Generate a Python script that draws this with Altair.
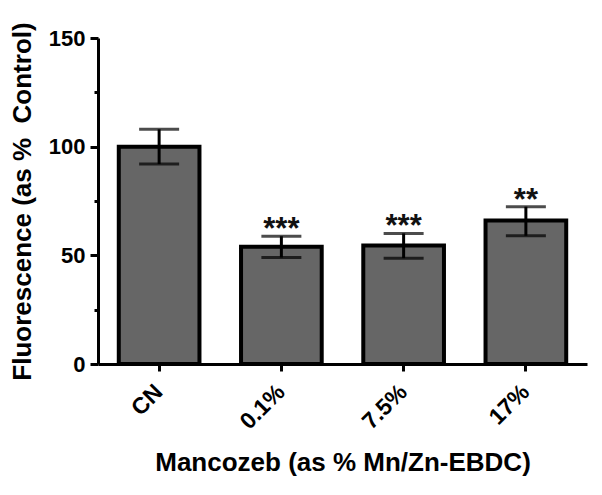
import altair as alt
import pandas as pd

categories = ["CN", "0.1%", "7.5%", "17%"]
means = [100, 54, 54.5, 66]
err_low = [92, 49, 48.7, 59]
err_high = [108, 58.8, 60.1, 72.4]
stars = ["", "***", "***", "**"]

df = pd.DataFrame({
    "cat": categories,
    "mean": means,
    "lo": err_low,
    "hi": err_high,
    "star": stars,
})

FONT = "Liberation Sans"

x = alt.X(
    "cat:N",
    sort=categories,
    scale=alt.Scale(paddingInner=0.34, paddingOuter=0.17),
    axis=alt.Axis(
        title="Mancozeb (as % Mn/Zn-EBDC)",
        labelAngle=-45,
        labelAlign="right",
        labelBaseline="middle",
        labelFont=FONT,
        labelFontSize=23,
        labelFontWeight="bold",
        labelColor="black",
        labelPadding=17,
        tickSize=7,
        tickWidth=3,
        tickColor="black",
        domainWidth=3,
        domainColor="black",
        titleFont=FONT,
        titleFontSize=26,
        titleFontWeight="bold",
        titleColor="black",
        titleY=98,
        titleBaseline="middle",
    ),
)

y_axis = alt.Axis(
    title="Fluorescence (as %\u00a0 Control)",
    values=[0, 25, 50, 75, 100, 125, 150],
    labelExpr="datum.value % 50 === 0 ? datum.label : ''",
    tickSize={"condition": {"test": "datum.value % 50 === 0", "value": 8}, "value": 4},
    tickWidth=3,
    tickColor="black",
    domainWidth=3,
    domainColor="black",
    labelFont=FONT,
    labelFontSize=22,
    labelFontWeight="bold",
    labelColor="black",
    labelPadding=5,
    grid=False,
    titleFont=FONT,
    titleFontSize=26,
    titleFontWeight="bold",
    titleColor="black",
    titleX=-76,
    titleY=163,
    titleAngle=-90,
    titleAlign="center",
    titleBaseline="middle",
)

base = alt.Chart(df)

bars = base.mark_bar(
    color="#666666", stroke="black", strokeWidth=4
).encode(
    x=x,
    y=alt.Y("mean:Q", scale=alt.Scale(domain=[0, 150], nice=False), axis=y_axis),
)

rules = base.mark_rule(color="black", strokeWidth=3).encode(
    x=alt.X("cat:N", sort=categories),
    y="lo:Q",
    y2="hi:Q",
)

caps_hi = base.mark_tick(color="black", thickness=3, size=40).encode(
    x=alt.X("cat:N", sort=categories),
    y="hi:Q",
)
caps_lo = base.mark_tick(color="black", thickness=3, size=40).encode(
    x=alt.X("cat:N", sort=categories),
    y="lo:Q",
)

txt = base.mark_text(
    font=FONT, fontSize=31, fontWeight="bold", color="#111111",
    baseline="middle", dy=-6,
).encode(
    x=alt.X("cat:N", sort=categories),
    y="hi:Q",
    text="star:N",
)

chart = alt.layer(bars, rules, caps_hi, caps_lo, txt).properties(
    width=489,
    height=326,
    background="white",
    autosize=alt.AutoSizeParams(type="none"),
    padding={"left": 90, "top": 30, "right": 7, "bottom": 123},
).configure_view(stroke=None)

chart.save("out.html", embed_options={"renderer": "svg", "actions": False})
